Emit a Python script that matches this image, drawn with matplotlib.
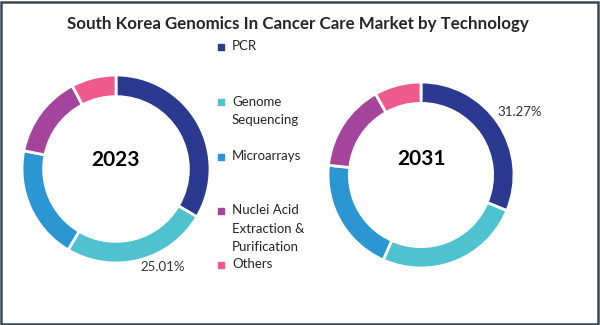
import matplotlib.pyplot as plt
from matplotlib.patches import Rectangle

# market share by technology (%), clockwise from 12 o'clock
segments = ['PCR', 'Genome\nSequencing', 'Microarrays',
            'Nuclei Acid\nExtraction &\nPurification', 'Others']
share_2023 = [33.5, 25.01, 19.6, 14.2, 7.69]
share_2031 = [31.27, 25.4, 20.0, 15.2, 8.13]
colors = ['#2B3990', '#4EC3CF', '#2B96D1', '#A5449C', '#EE5A8C']

plt.rcParams['font.family'] = ['Lato', 'DejaVu Sans']

W, H = 600, 325
fig = plt.figure(figsize=(6, 3.25), dpi=100)


def px_axes(cx, cy, r):
    # axes box in pixel units, y measured from the top
    return fig.add_axes([(cx - r) / W, (H - cy - r) / H, 2 * r / W, 2 * r / H])


def donut(ax, values, year, year_y):
    ax.pie(values, colors=colors, startangle=90, counterclock=False, radius=1,
           wedgeprops=dict(width=0.23, edgecolor='white', linewidth=2))
    ax.set_xlim(-1, 1)
    ax.set_ylim(-1, 1)
    ax.set_aspect('equal')
    ax.axis('off')
    ax.text(0, year_y, year, ha='center', va='center', fontsize=15,
            fontweight='bold', color='black')


ax1 = px_axes(116, 169, 94)
donut(ax1, share_2023, '2023', 0.1)
ax1.text(0.5, -1.04, f'{share_2023[1]:.2f}%', ha='center', va='center',
         fontsize=9.5, color='#333333', clip_on=False)

ax2 = px_axes(421, 175, 93)
donut(ax2, share_2031, '2031', 0.17)
ax2.text(1.06, 0.68, f'{share_2031[0]:.2f}%', ha='center', va='center',
         fontsize=9.5, color='#333333', clip_on=False)

# title
fig.text(298 / W, 1 - 24 / H,
         'South Korea Genomics In Cancer Care Market by Technology',
         ha='center', va='center', fontsize=12.2, fontweight='bold',
         color='#262626')

# legend, placed by hand to keep the uneven spacing
legend_y = [47, 102, 157, 211, 265]
for lab, col, y in zip(segments, colors, legend_y):
    fig.patches.append(Rectangle((218 / W, 1 - (y + 3) / H), 6 / W, 6 / H,
                                 transform=fig.transFigure, color=col))
    fig.text(232 / W, 1 - (y - 6.5) / H, lab, ha='left', va='top',
             fontsize=9.5, color='#262626', linespacing=1.62)

# frame around the whole picture
fig.patches.append(Rectangle((1 / W, 1 / H), 1 - 3 / W, 1 - 3 / H,
                             transform=fig.transFigure, fill=False,
                             edgecolor='#3B4852', linewidth=1.8))

fig.savefig('out.png', dpi=100, facecolor='white')
